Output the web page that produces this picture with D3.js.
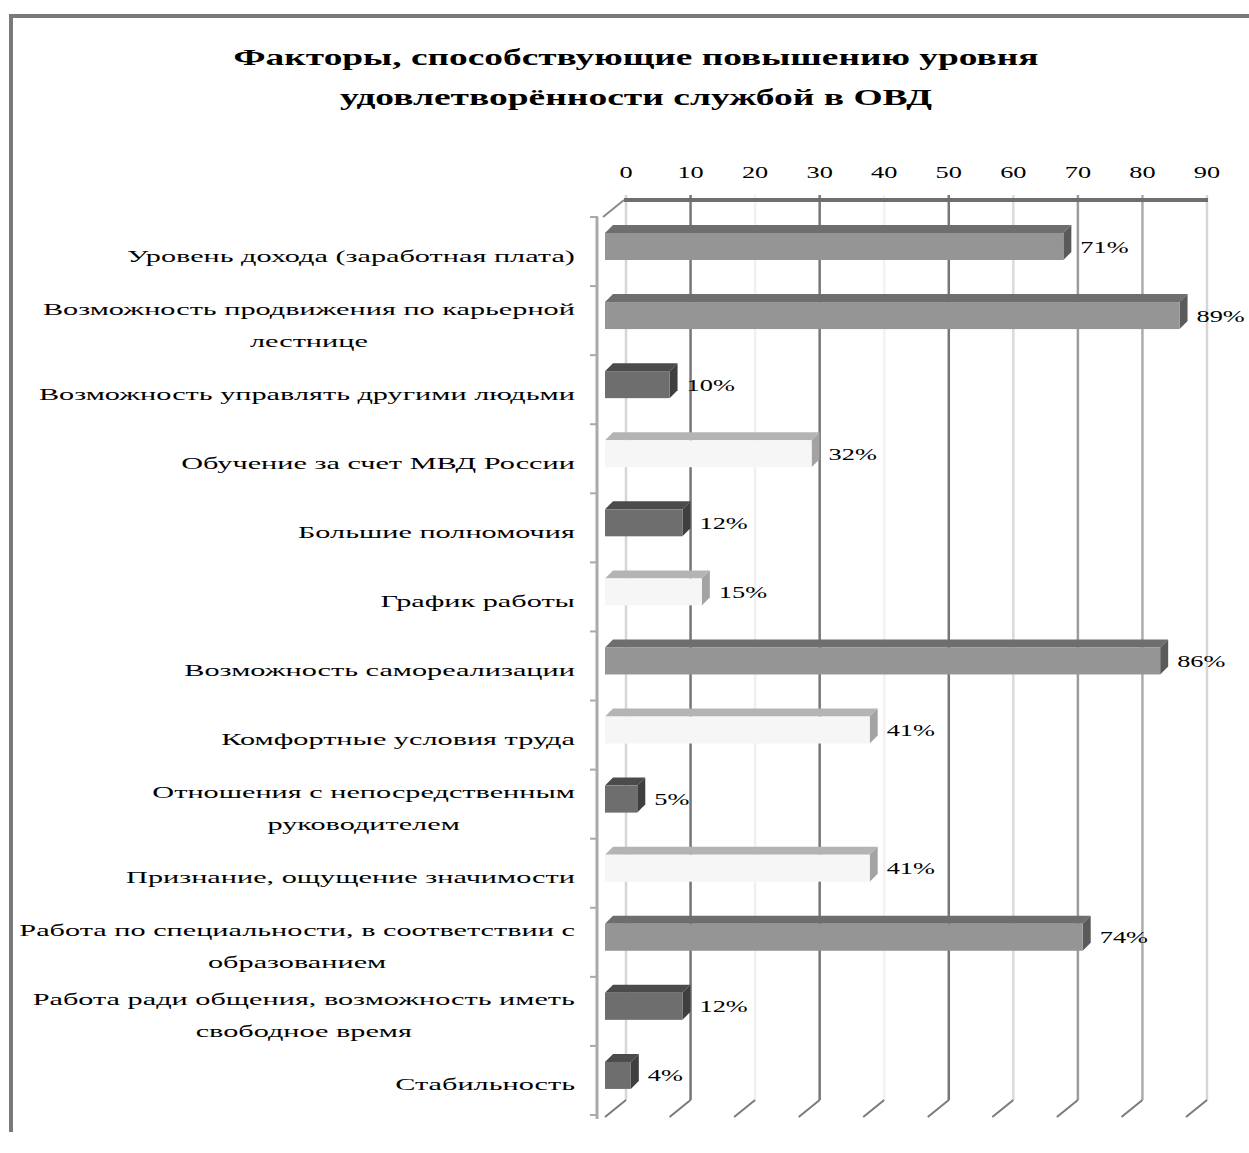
<!DOCTYPE html>
<html>
<head>
<meta charset="utf-8">
<script src="https://cdn.jsdelivr.net/npm/d3@7.9.0/dist/d3.min.js"></script>
<style>
  body { margin: 0; background: #fff; }
  text { font-family: "Liberation Serif", "DejaVu Serif", serif; fill: #000; }
</style>
</head>
<body>
<script>
const titleLines = ["Факторы, способствующие повышению уровня", "удовлетворённости службой в ОВД"];

const categories = [
  "Уровень дохода (заработная плата)",
  "Возможность продвижения по карьерной\nлестнице",
  "Возможность управлять другими людьми",
  "Обучение за счет МВД России",
  "Большие полномочия",
  "График работы",
  "Возможность самореализации",
  "Комфортные условия труда",
  "Отношения с непосредственным\nруководителем",
  "Признание, ощущение значимости",
  "Работа по специальности, в соответствии с\nобразованием",
  "Работа ради общения, возможность иметь\nсвободное время",
  "Стабильность"
];
const values = [71, 89, 10, 32, 12, 15, 86, 41, 5, 41, 74, 12, 4];
const shades = ["mid", "mid", "dark", "light", "dark", "light", "mid", "light", "dark", "light", "mid", "dark", "dark"];
const ticks = [0, 10, 20, 30, 40, 50, 60, 70, 80, 90];

// colours of the bar faces
const faceColors = {
  mid:   { front: "#959595", top: "#6e6e6e", side: "#5a5a5a" },
  dark:  { front: "#6e6e6e", top: "#4b4b4b", side: "#3f3f3f" },
  light: { front: "#f6f6f6", top: "#b4b4b4", side: "#a3a3a3" }
};
// the gridlines come out in uneven greys in the picture
const gridColors = ["#d6d6d6", "#767676", "#f0f0f0", "#777777", "#f2f2f2", "#777777", "#dadada", "#9c9c9c", "#acacac", "#d6d6d6"];

const W = 1249, H = 1153;
const svg = d3.select("body").append("svg").attr("width", W).attr("height", H);

// outer frame (right and bottom edges are cut off)
svg.append("path")
  .attr("d", "M11,1132 V16 H1260")
  .attr("fill", "none").attr("stroke", "#7a7a7a").attr("stroke-width", 4);

const x = d3.scaleLinear().domain([0, 90]).range([626, 1207]);
const y = d3.scaleBand().domain(d3.range(categories.length)).range([217, 1115]);
const wallDx = 21, wallDy = 17;   // depth of the side wall
const barDx = 8, barDy = 8;       // depth of a bar
const wallTop = 200, wallBottom = 1100;
const sx = 1.55;                   // text in the picture is stretched sideways
const sxLabel = 1.78;

// back wall gridlines
svg.append("g").selectAll("line").data(ticks).join("line")
  .attr("x1", d => x(d)).attr("x2", d => x(d))
  .attr("y1", wallTop - 5).attr("y2", wallBottom)
  .attr("stroke", (d, i) => gridColors[i]).attr("stroke-width", 2.5);

// floor ticks
svg.append("g").selectAll("line").data(ticks).join("line")
  .attr("x1", d => x(d)).attr("y1", wallBottom)
  .attr("x2", d => x(d) - wallDx).attr("y2", wallBottom + wallDy)
  .attr("stroke", "#7a7a7a").attr("stroke-width", 2);

// top axis line
svg.append("line")
  .attr("x1", x(0) - 2).attr("x2", x(90) + 1)
  .attr("y1", wallTop).attr("y2", wallTop)
  .attr("stroke", "#6e6e6e").attr("stroke-width", 4);

// side wall edges
svg.append("line")
  .attr("x1", x(0) - 2).attr("y1", wallTop)
  .attr("x2", x(0) - 2 - wallDx).attr("y2", wallTop + wallDy)
  .attr("stroke", "#8a8a8a").attr("stroke-width", 2);
svg.append("line")
  .attr("x1", 597).attr("x2", 597)
  .attr("y1", wallTop + wallDy).attr("y2", wallBottom + wallDy + 2)
  .attr("stroke", "#aaaaaa").attr("stroke-width", 3);

// category ticks
svg.append("g").selectAll("line").data(d3.range(categories.length + 1)).join("line")
  .attr("x1", 590).attr("x2", 598)
  .attr("y1", i => y.range()[0] + i * y.step())
  .attr("y2", i => y.range()[0] + i * y.step())
  .attr("stroke", "#aaaaaa").attr("stroke-width", 2);

// tick labels
svg.append("g").selectAll("text").data(ticks).join("text")
  .attr("transform", d => `translate(${x(d)},178) scale(${sx},1)`)
  .attr("text-anchor", "middle")
  .attr("font-size", 17)
  .text(d => d);

// bars
const bars = svg.append("g").selectAll("g").data(values).join("g");
const x0 = x(0) - wallDx;
const frontTop = i => y(i) + 16;
const frontH = 27;

bars.append("path")  // top face
  .attr("d", (d, i) => {
    const xe = x(d) - wallDx, yt = frontTop(i);
    return `M${x0},${yt} L${xe},${yt} L${xe + barDx},${yt - barDy} L${x0 + barDx},${yt - barDy} Z`;
  })
  .attr("fill", (d, i) => faceColors[shades[i]].top);

bars.append("path")  // side face
  .attr("d", (d, i) => {
    const xe = x(d) - wallDx, yt = frontTop(i);
    return `M${xe},${yt} L${xe + barDx},${yt - barDy} L${xe + barDx},${yt + frontH - barDy} L${xe},${yt + frontH} Z`;
  })
  .attr("fill", (d, i) => faceColors[shades[i]].side);

bars.append("rect")  // front face
  .attr("x", x0)
  .attr("y", (d, i) => frontTop(i))
  .attr("width", d => x(d) - wallDx - x0)
  .attr("height", frontH)
  .attr("fill", (d, i) => faceColors[shades[i]].front);

// value labels
bars.append("text")
  .attr("transform", (d, i) => `translate(${x(d) - wallDx + barDx + 9},${frontTop(i) + frontH / 2 + 6}) scale(${sx},1)`)
  .attr("font-size", 17)
  .text(d => d + "%");

// category labels: lines centred on each other, block aligned right
const labelRight = 575, lineGap = 32;
categories.forEach((label, i) => {
  const lines = label.split("\n");
  const g = svg.append("g");
  const cy = y(i) + y.bandwidth() / 2 + 4;
  const texts = lines.map(line => g.append("text")
    .attr("font-size", 17)
    .attr("text-anchor", "middle")
    .text(line));
  const maxW = d3.max(texts, t => t.node().getComputedTextLength()) * sxLabel;
  const cx = labelRight - maxW / 2;
  texts.forEach((t, k) => {
    const ly = cy + (k - (lines.length - 1) / 2) * lineGap + 6;
    t.attr("transform", `translate(${cx},${ly}) scale(${sxLabel},1)`);
  });
});

// title
const titleWidths = [805, 592];
svg.append("g").selectAll("text").data(titleLines).join("text")
  .attr("x", 636)
  .attr("y", (d, i) => 65 + i * 40)
  .attr("text-anchor", "middle")
  .attr("font-size", 24)
  .attr("font-weight", "bold")
  .attr("textLength", (d, i) => titleWidths[i])
  .attr("lengthAdjust", "spacingAndGlyphs")
  .text(d => d);
</script>
</body>
</html>
